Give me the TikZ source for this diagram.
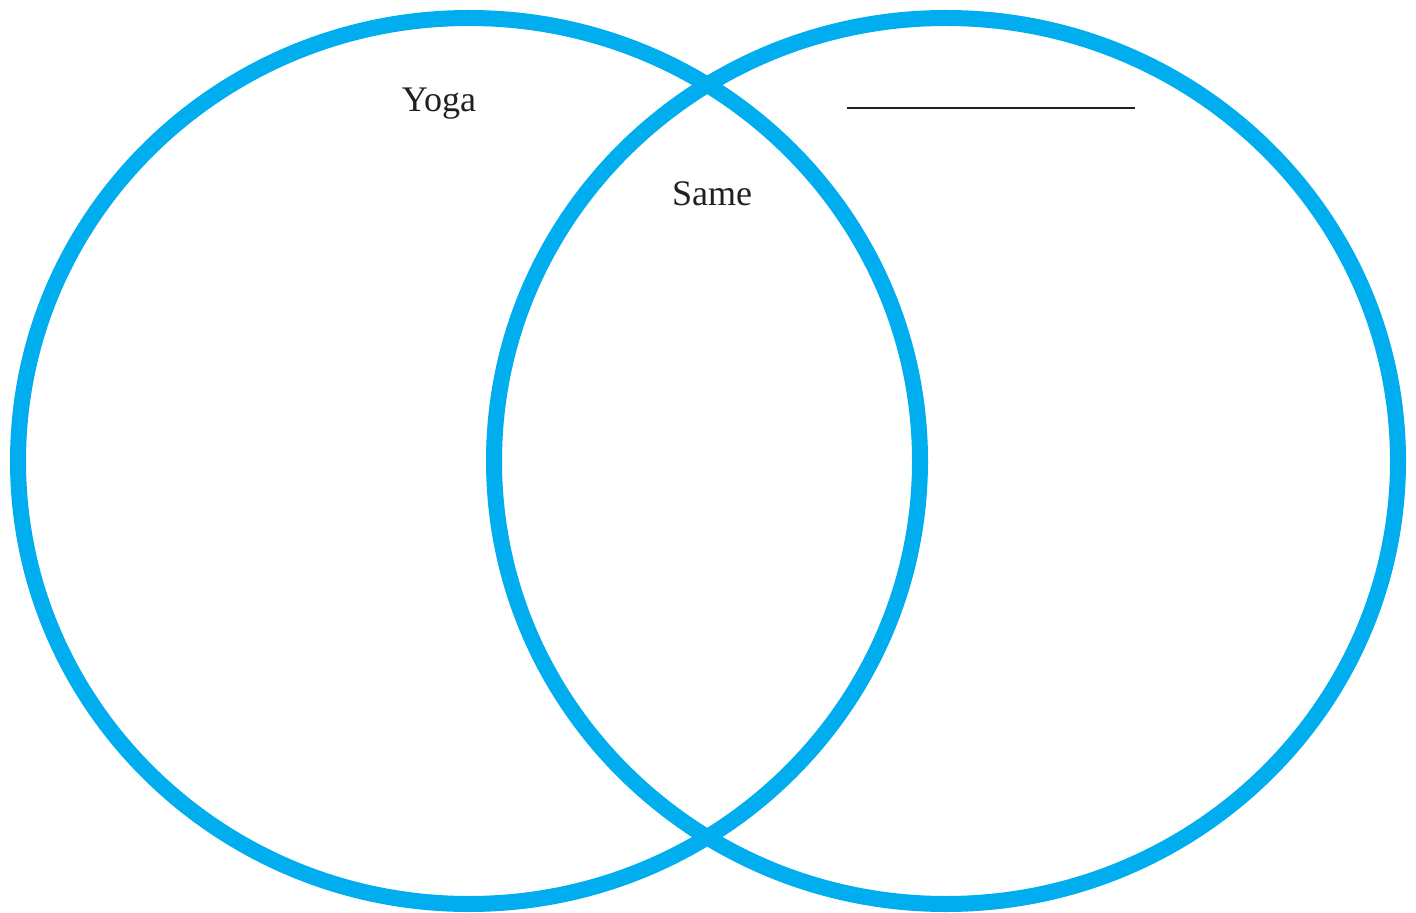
\documentclass[tikz,border=0pt]{standalone}
\usepackage{fontspec}
\setmainfont{Liberation Serif}
\usepackage{xcolor}
\usetikzlibrary{positioning}
\definecolor{vennblue}{HTML}{00AEEF}
\definecolor{inkdark}{HTML}{231F20}

\begin{document}
\begin{tikzpicture}[
  x=0.5pt, y=-0.5pt,
  venn/.style={draw=vennblue, line width=8pt},
  label/.style={font=\fontsize{18pt}{21pt}\selectfont, text=inkdark, anchor=base, inner sep=0pt},
  blank/.style={draw=inkdark, line width=0.8pt},
]
\useasboundingbox (0,0) rectangle (1416,913);

% the two sets
\draw[venn] (469,461) ellipse [x radius=451, y radius=443];
\draw[venn] (946,461) ellipse [x radius=452, y radius=443];

% titles
\node[label] (yoga) at (439,112) {Yoga};
\node[label] (same) at (712,206) {Same};

% write-in line for the second set
\coordinate (bl) at (847,108);
\coordinate (br) at (1135,108);
\draw[blank] (bl) -- (br);

\end{tikzpicture}
\end{document}
